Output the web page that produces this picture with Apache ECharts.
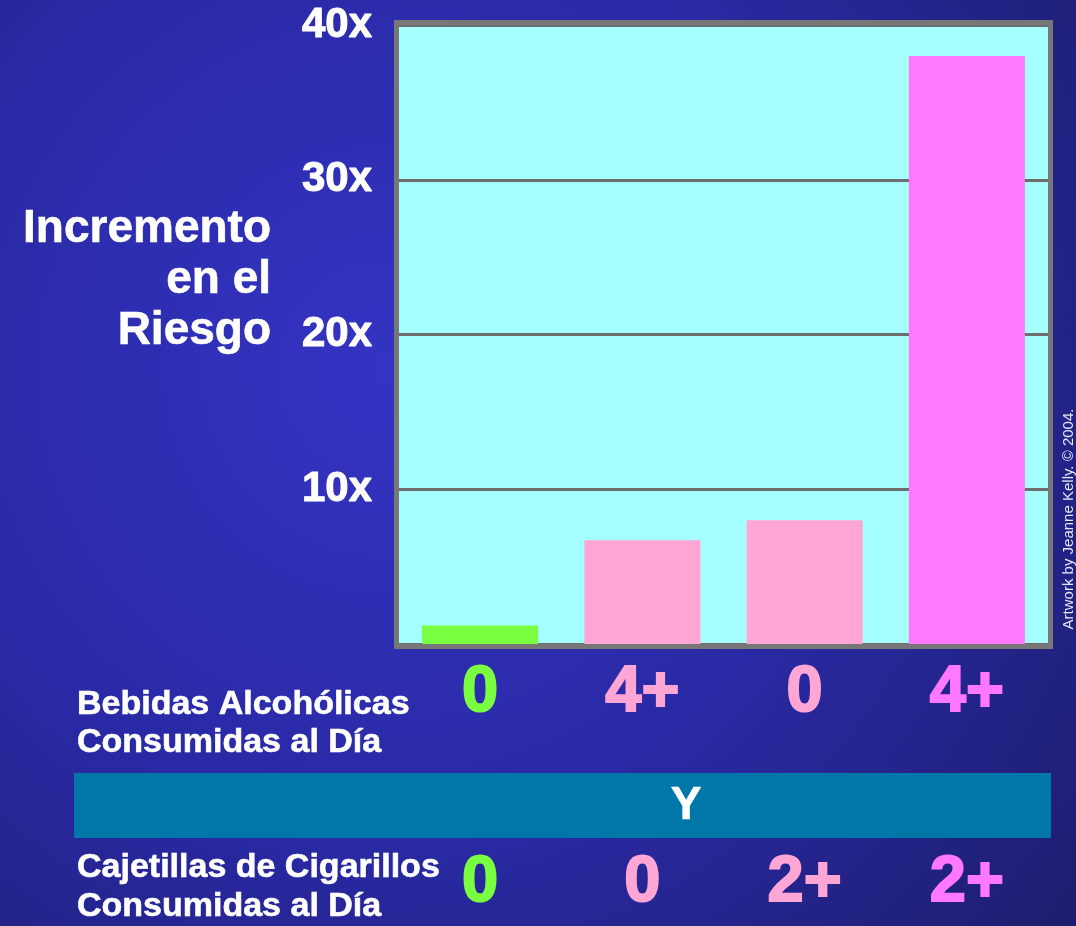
<!DOCTYPE html>
<html>
<head>
<meta charset="utf-8">
<script src="https://cdn.jsdelivr.net/npm/echarts@6/dist/echarts.min.js"></script>
<style>
html,body{margin:0;padding:0;width:1076px;height:926px;overflow:hidden;}
#chart{width:1076px;height:926px;}
</style>
</head>
<body>
<div id="chart"></div>
<script>
// ---- data ----
const alcoholDrinks = ['0', '4+', '0', '4+'];
const cigarettePacks = ['0', '0', '2+', '2+'];
const riskIncrease = [1.2, 6.7, 8, 38];
const yTicks = [0, 10, 20, 30, 40];

// ---- styles ----
const barColors = ['#7aff40', '#ffa6d4', '#ffa6d4', '#ff78ff'];
const alcoholLabelColors = ['#7aff40', '#ffa6d4', '#ffa6d4', '#ff78ff'];
const cigaretteLabelColors = ['#7aff40', '#ffa6d4', '#ffa6d4', '#ff78ff'];
const FONT = 'Liberation Sans, Arial, sans-serif';

function richFor(colors) {
  const r = {};
  colors.forEach((c, i) => {
    r['c' + i] = { color: c, fontSize: 65, fontWeight: 'bold', fontFamily: FONT,
      textBorderColor: c, textBorderWidth: 2 };
  });
  return r;
}

function whiteText(x, y, text, size, align) {
  return { type: 'text', x: x, y: y,
    style: { text: text, fill: '#fff', font: 'bold ' + size + 'px ' + FONT,
      textAlign: align, textVerticalAlign: 'middle', stroke: '#fff', lineWidth: 0.6 } };
}

const chart = echarts.init(document.getElementById('chart'), null, { renderer: 'canvas' });

const option = {
  animation: false,
  backgroundColor: {
    type: 'radial', x: 0.36, y: 0.4, r: 1.0,
    colorStops: [
      { offset: 0, color: '#3434c4' },
      { offset: 0.5, color: '#2929a4' },
      { offset: 1, color: '#1c1c68' }
    ]
  },
  grid: {
    left: 399, top: 25, width: 649, height: 619,
    show: true, backgroundColor: '#a6ffff', borderWidth: 0
  },
  xAxis: [
    {
      type: 'category', data: alcoholDrinks, position: 'bottom',
      axisLine: { show: false }, axisTick: { show: false },
      axisLabel: {
        margin: 49, verticalAlign: 'middle', lineHeight: 66,
        formatter: (v, i) => '{c' + i + '|' + v + '}',
        rich: richFor(alcoholLabelColors)
      }
    },
    {
      type: 'category', data: cigarettePacks, position: 'bottom', offset: 0,
      axisLine: { show: false }, axisTick: { show: false },
      axisLabel: {
        margin: 239, verticalAlign: 'middle', lineHeight: 66,
        formatter: (v, i) => '{c' + i + '|' + v + '}',
        rich: richFor(cigaretteLabelColors)
      }
    }
  ],
  yAxis: {
    type: 'value', min: yTicks[0], max: yTicks[yTicks.length - 1], interval: 10,
    axisLine: { show: false }, axisTick: { show: false },
    axisLabel: {
      margin: 27, color: '#ffffff', fontSize: 42, fontWeight: 'bold', fontFamily: FONT,
      textBorderColor: '#ffffff', textBorderWidth: 1,
      formatter: v => (v === 0 ? '' : v + 'x')
    },
    splitLine: { lineStyle: { color: '#6e6e6e', width: 3 } }
  },
  series: [
    {
      type: 'bar', xAxisIndex: 0, yAxisIndex: 0,
      data: riskIncrease, barWidth: '71.5%',
      itemStyle: { color: p => barColors[p.dataIndex] }
    }
  ],
  graphic: [
    { type: 'rect', z: 100, shape: { x: 396.5, y: 22.5, width: 654, height: 624 },
      style: { fill: 'none', stroke: '#777777', lineWidth: 5 } },
    whiteText(271, 229, 'Incremento', 46, 'right'),
    whiteText(271, 280, 'en el', 46, 'right'),
    whiteText(271, 331, 'Riesgo', 46, 'right'),
    whiteText(77, 705, 'Bebidas Alcohólicas', 34, 'left'),
    whiteText(77, 743, 'Consumidas al Día', 34, 'left'),
    { type: 'rect', shape: { x: 74, y: 773, width: 977, height: 65 }, style: { fill: '#0077a8' } },
    whiteText(686, 806, 'Y', 46, 'center'),
    whiteText(77, 868, 'Cajetillas de Cigarillos', 34, 'left'),
    whiteText(77, 907, 'Consumidas al Día', 34, 'left'),
    { type: 'text', x: 1069, y: 519, rotation: Math.PI / 2,
      style: { text: 'Artwork by Jeanne Kelly. © 2004.', fill: '#e6e6f6', font: '15px ' + FONT, textAlign: 'center', textVerticalAlign: 'middle' } }
  ]
};
chart.setOption(option);
</script>
</body>
</html>
